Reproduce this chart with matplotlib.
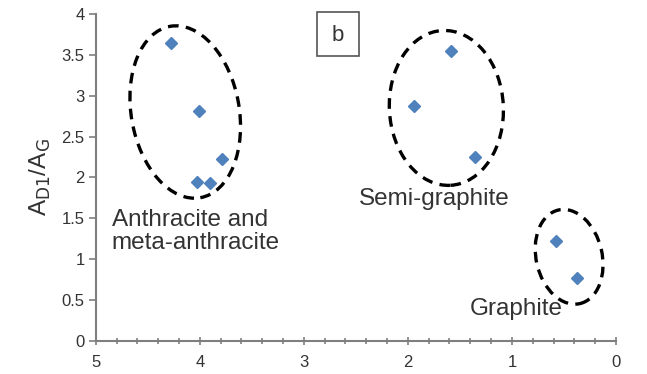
"""Raman band area ratio vs. rank, panel b"""

import matplotlib.pyplot as plt
from matplotlib.patches import Ellipse, Rectangle
from matplotlib.transforms import ScaledTranslation
from matplotlib.ticker import MultipleLocator

###Data
anthracite_x = [4.28, 4.01, 4.03, 3.90, 3.79]
anthracite_y = [3.64, 2.81, 1.95, 1.93, 2.23]
semi_x = [1.59, 1.94, 1.35]
semi_y = [3.54, 2.87, 2.25]
graphite_x = [0.58, 0.37]
graphite_y = [1.22, 0.77]

# group outlines: label, centre (data), width/height (inches), tilt (deg)
groups = [
    ("Anthracite and\nmeta-anthracite", (4.14, 2.80), 1.08, 1.74, 10),
    ("Semi-graphite", (1.63, 2.85), 1.14, 1.55, 3),
    ("Graphite", (0.45, 1.03), 0.66, 0.96, 13),
]
###Data end

font_size = 17.5
tick_size = 12
text_color = '#333333'
axis_color = '#7f7f7f'
marker_color = '#4f81bd'

plt.rcParams['font.family'] = ['Liberation Sans', 'DejaVu Sans']

fig = plt.figure(figsize=(6.47, 3.74), dpi=100)
ax = fig.add_axes([0.148, 0.088, 0.804, 0.875])

xs = anthracite_x + semi_x + graphite_x
ys = anthracite_y + semi_y + graphite_y
ax.plot(xs, ys, 'D', color=marker_color, ms=6.3, mec=marker_color, zorder=3)

for label, centre, w, h, angle in groups:
    tr = fig.dpi_scale_trans + ScaledTranslation(centre[0], centre[1], ax.transData)
    ax.add_patch(Ellipse((0, 0), w, h, angle=angle, transform=tr, fill=False,
                         edgecolor='black', lw=2.4, linestyle=(0, (3.2, 2.2)),
                         zorder=2))

ax.text(4.845, 1.62, groups[0][0], fontsize=font_size, color=text_color,
        va='top', ha='left', linespacing=1.1)
ax.text(1.75, 1.87, groups[1][0], fontsize=font_size, color=text_color,
        va='top', ha='center')
ax.text(0.96, 0.53, groups[2][0], fontsize=font_size, color=text_color,
        va='top', ha='center')

# panel letter box
ax.text(0.466, 0.934, 'b', transform=ax.transAxes, fontsize=16,
        color=text_color, ha='center', va='center')
ax.add_patch(Rectangle((0.425, 0.872), 0.081, 0.134, transform=ax.transAxes,
                       fill=False, edgecolor='#555555', lw=1.2, clip_on=False))

ax.set_xlim(5, 0)
ax.set_ylim(0, 4)
ax.xaxis.set_major_locator(MultipleLocator(1))
ax.xaxis.set_minor_locator(MultipleLocator(0.2))
ax.set_yticks([0, 0.5, 1, 1.5, 2, 2.5, 3, 3.5, 4],
              ['0', '0.5', '1', '1.5', '2', '2.5', '3', '3.5', '4'])

for side in ['top', 'right']:
    ax.spines[side].set_visible(False)
for side in ['left', 'bottom']:
    ax.spines[side].set_color(axis_color)
    ax.spines[side].set_linewidth(1.5)

ax.tick_params(axis='both', which='major', direction='out', length=5,
               width=1.2, color=axis_color, labelsize=tick_size,
               labelcolor=text_color)
ax.tick_params(axis='x', which='minor', direction='inout', length=4,
               width=1.2, color=axis_color)
ax.tick_params(axis='x', which='major', direction='inout', length=6, pad=7)
ax.tick_params(axis='y', which='major', pad=3)

ax.set_ylabel(r'A$_{\mathrm{D1}}$/A$_{\mathrm{G}}$', fontsize=font_size,
              color=text_color, labelpad=6)

fig.savefig('out.png', dpi=100)
plt.close()
